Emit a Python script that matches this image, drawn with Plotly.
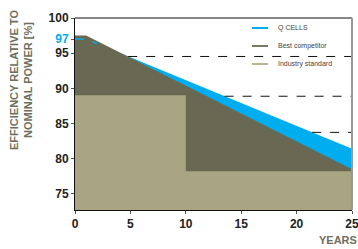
import numpy as np
import plotly.graph_objects as go

# ---- data ----
years_q = [0, 1, 25]
q_cells = [97, 97, 81.4]
years_comp = [0, 1, 25]
competitor = [97.5, 97.5, 78.5]
years_ind = [0, 10, 25]
industry = [89, 78.2, 78.2]
dash_start_years = [4.8, 13.5, 21.4]
q_dash_years = [0, 1, 2]
y_ticks = [75, 80, 85, 90, 95, 97, 100]
x_ticks = [0, 5, 10, 15, 20, 25]
legend_names = ["Q CELLS", "Best competitor", "Industry standard"]

BLUE = "#00AEEF"
DARK = "#696953"
KHAKI = "#A9A583"
TITLE_C = "#6E6E5C"

fig = go.Figure()
fig.add_trace(go.Scatter(x=years_q, y=q_cells, fill="tozeroy", mode="lines",
                         line=dict(color=BLUE, width=0), fillcolor=BLUE, showlegend=False))
fig.add_trace(go.Scatter(x=years_comp, y=competitor, fill="tozeroy", mode="lines",
                         line=dict(color=DARK, width=0), fillcolor=DARK, showlegend=False))
fig.add_trace(go.Scatter(x=years_ind, y=industry, fill="tozeroy", mode="lines", line_shape="hv",
                         line=dict(color=KHAKI, width=0), fillcolor=KHAKI, showlegend=False))
fig.add_trace(go.Scatter(x=q_dash_years, y=np.interp(q_dash_years, years_q, q_cells), mode="lines",
                         line=dict(color=BLUE, width=1.5, dash="dash"), showlegend=False))
for yr in dash_start_years:
    v = float(np.interp(yr, years_q, q_cells))
    fig.add_trace(go.Scatter(x=[yr, 25], y=[v, v], mode="lines",
                             line=dict(color="#111", width=1, dash="dash"), showlegend=False))

ticktext = [f"<span style='color:{BLUE}'>{v}</span>" if v == 97 else str(v) for v in y_ticks]

fig.update_layout(
    width=358, height=249,
    margin=dict(l=75, r=6, t=18, b=39, autoexpand=False),
    plot_bgcolor="white", paper_bgcolor="white",
    font=dict(family="Liberation Sans, Arial", size=12, color="#222"),
    xaxis=dict(range=[0, 25], tickvals=x_ticks, showgrid=False, zeroline=False,
               showline=True, linecolor="#111", linewidth=1, ticks="outside", ticklen=3,
               tickcolor="#555", ticklabeloverflow="allow", automargin=False,
               tickfont=dict(size=12, weight="bold", color="#222")),
    yaxis=dict(range=[72.7, 100], tickvals=y_ticks, ticktext=ticktext, showgrid=False,
               zeroline=False, showline=True, linecolor="#111", linewidth=1,
               ticks="outside", ticklen=3, tickcolor="#555", automargin=False,
               tickfont=dict(size=12, weight="bold", color="#222")),
    showlegend=False,
    hovermode=False,
)

# plot frame (top black, right gray)
fig.add_shape(type="line", xref="paper", yref="paper", x0=0, x1=1, y0=1, y1=1,
              line=dict(color="#111", width=1))
fig.add_shape(type="line", xref="paper", yref="paper", x0=1, x1=1, y0=0, y1=1,
              line=dict(color="#999", width=2))

# legend (manual)
leg_colors = [BLUE, "#7A7A68", "#B9B597"]
for i, (name, c) in enumerate(zip(legend_names, leg_colors)):
    yp = 1 - (10 + i * 18) / 192
    fig.add_shape(type="line", xref="paper", yref="paper", x0=(252 - 75) / 277, x1=(268 - 75) / 277,
                  y0=yp, y1=yp, line=dict(color=c, width=2))
    fig.add_annotation(xref="paper", yref="paper", x=(276 - 75) / 277, y=yp, text=name,
                       showarrow=False, xanchor="left", yanchor="middle",
                       font=dict(size=7, color="#444"))

fig.add_annotation(xref="paper", yref="paper", x=-54 / 277, y=1 - 62 / 192,
                   text="EFFICIENCY RELATIVE TO<br>NOMINAL POWER [%]", textangle=-90,
                   showarrow=False, xanchor="center", yanchor="middle",
                   font=dict(size=11, weight="bold", color=TITLE_C,
                             family="Liberation Sans Narrow, Liberation Sans"))
fig.add_annotation(xref="paper", yref="paper", x=(359 - 75) / 277, y=-30 / 192, text="YEARS",
                   showarrow=False, xanchor="right", yanchor="middle",
                   font=dict(size=11, weight="bold", color=TITLE_C))

fig.write_html("out.html", config={"displayModeBar": False, "staticPlot": True},
               post_script="document.body.style.margin='0';document.body.style.overflow='hidden';")
